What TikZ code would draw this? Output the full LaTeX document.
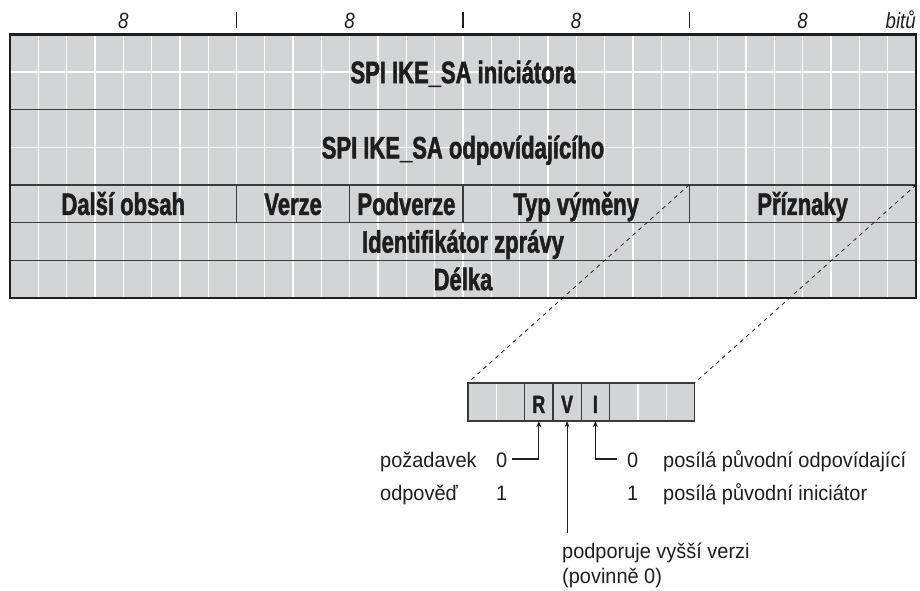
\documentclass[tikz,border=0pt]{standalone}
\usepackage{fontspec}
\setmainfont{Liberation Sans}
\newfontfamily\hcond[FakeStretch=0.71, BoldFeatures={FakeBold=1.6}]{Liberation Sans}
\newfontfamily\hlab[FakeStretch=0.85]{Liberation Sans}
\newfontfamily\hnote[FakeStretch=0.95]{Liberation Sans}
\usetikzlibrary{arrows.meta}
\definecolor{tabfill}{HTML}{D3D4D6}
\definecolor{rulec}{HTML}{3A3A3A}
\definecolor{ink}{HTML}{1E1E1E}
\begin{document}
\begin{tikzpicture}[x=1pt,y=-1pt,
 field/.style={inner sep=0pt, text height=22pt, text depth=0pt,
   font=\hcond\bfseries\fontsize{31}{31}\selectfont, text=ink},
 bitlab/.style={font=\hlab\itshape\fontsize{22}{22}\selectfont, text=ink, inner sep=0pt},
 note/.style={font=\hnote\fontsize{21}{25}\selectfont, text=ink, inner sep=0pt, anchor=base west},
 gridline/.style={white, line width=1.3pt},
 rowline/.style={rulec, line width=1.4pt},
 frame/.style={ink, line width=2.8pt},
 tickline/.style={ink, line width=1.1pt},
 cell/.style={minimum width=28.3125pt, minimum height=38pt, inner sep=0pt},
 bitletter/.style={font=\hcond\bfseries\fontsize{25}{25}\selectfont, text=ink, inner sep=0pt, anchor=base},
 pointer/.style={ink, line width=1.1pt, -{Stealth[length=6pt,width=5pt]}},
 zoomline/.style={ink, line width=0.8pt, dash pattern=on 4pt off 4pt},
]
\useasboundingbox (0,0) rectangle (920,591);

% ---- bit labels
\node[bitlab, anchor=base] (b8a) at (123.2,29) {8};
\node[bitlab, anchor=base] (b8b) at (349.6,29) {8};
\node[bitlab, anchor=base] (b8c) at (576.1,29) {8};
\node[bitlab, anchor=base] (b8d) at (802.6,29) {8};
\node[bitlab, anchor=base east] (bitu) at (916,29) {bitů};
\draw[tickline] (236.5,12) -- (236.5,28);
\draw[tickline] (463,12) -- (463,28);
\draw[tickline] (689.25,12) -- (689.25,28);

% ---- table background and grid
\fill[tabfill] (10,34.5) rectangle (916,298.05);
\foreach \k in {1,...,31}
  \draw[gridline] ({10+\k*28.3125},34.5) -- ({10+\k*28.3125},298.05);
\draw[gridline] (10,72.15) -- (916,72.15);
\draw[gridline] (10,147.45) -- (916,147.45);

% ---- row dividers
\draw[rowline] (10,109.8) -- (916,109.8);
\draw[rowline] (10,185.1) -- (916,185.1);
\draw[rowline] (10,222.75) -- (916,222.75);
\draw[rowline] (10,260.4) -- (916,260.4);
\draw[rowline] (236.5,185.1) -- (236.5,222.75);
\draw[rowline] (349.75,185.1) -- (349.75,222.75);
\draw[rowline] (463,185.1) -- (463,222.75);
\draw[rowline] (689.25,185.1) -- (689.25,222.75);
\draw[frame] (10,34.5) rectangle (916,298.05);

% ---- fields
\node[field, minimum width=906pt, minimum height=75.3pt] (fInit) at (463,72.15) {SPI IKE\_SA iniciátora};
\node[field, minimum width=906pt, minimum height=75.3pt] (fResp) at (463,147.45) {SPI IKE\_SA odpovídajícího};
\node[field, minimum width=226.5pt, minimum height=37.65pt] (fNext) at (123.25,203.9) {Další obsah};
\node[field, minimum width=113.25pt, minimum height=37.65pt] (fVer) at (293.1,203.9) {Verze};
\node[field, minimum width=113.25pt, minimum height=37.65pt] (fSub) at (406.4,203.9) {Podverze};
\node[field, minimum width=226.5pt, minimum height=37.65pt] (fType) at (576.1,203.9) {Typ výměny};
\node[field, minimum width=226.5pt, minimum height=37.65pt] (fFlags) at (802.6,203.9) {Příznaky};
\node[field, minimum width=906pt, minimum height=37.65pt] (fId) at (463,241.6) {Identifikátor zprávy};
\node[field, minimum width=906pt, minimum height=37.65pt] (fLen) at (463,279.2) {Délka};

% ---- flags byte
\node[fill=tabfill, minimum width=226.5pt, minimum height=38pt, inner sep=0pt] (sbox) at (581.25,402) {};
\foreach \k in {1,6,7}
  \draw[gridline] ({468+\k*28.3125},383) -- ({468+\k*28.3125},421);
\foreach \k in {2,3,4,5}
  \draw[rowline] ({468+\k*28.3125},383) -- ({468+\k*28.3125},421);
\draw[rulec, line width=1.5pt] (sbox.north west) rectangle (sbox.south east);
\node[cell] (cR) at (538.8,402) {};
\node[cell] (cV) at (567.1,402) {};
\node[cell] (cI) at (595.4,402) {};
\node[bitletter] (lR) at (538.8,413) {R};
\node[bitletter] (lV) at (567.1,413) {V};
\node[bitletter] (lI) at (595.4,413) {I};

% ---- zoom lines
\draw[zoomline] (fFlags.north west) -- (sbox.north west);
\draw[zoomline] (fFlags.north east) -- (sbox.north east);

% ---- notes
\node[note] (tReq) at (380,467) {požadavek};
\node[note] (tResp) at (380,500) {odpověď};
\node[note] (rZero) at (496,467) {0};
\node[note] (rOne) at (496,500) {1};
\node[note] (iZero) at (627,467) {0};
\node[note] (iOne) at (627,500) {1};
\node[note] (tSendR) at (663,467) {posílá původní odpovídající};
\node[note] (tSendI) at (663,500) {posílá původní iniciátor};
\node[note] (tV1) at (562,558) {podporuje vyšší verzi};
\node[note] (tV2) at (562,583) {(povinně 0)};

\coordinate (rjoin) at (512,459);
\coordinate (ijoin) at (617,459);
\coordinate (vfoot) at (567.1,533);
\draw[pointer] (rjoin) -| (cR.south);
\draw[pointer] (ijoin) -| (cI.south);
\draw[pointer] (vfoot) -- (cV.south);
\end{tikzpicture}
\end{document}
